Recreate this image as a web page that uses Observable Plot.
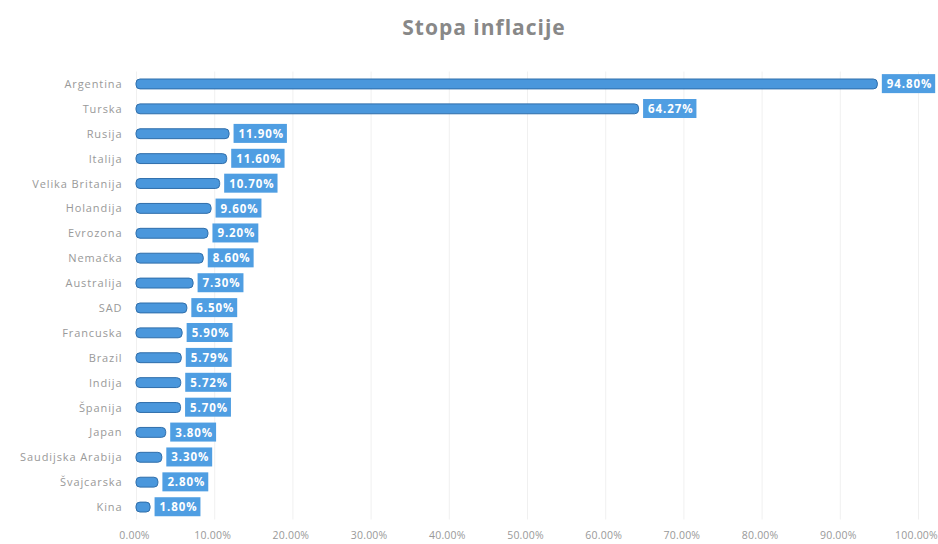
<!DOCTYPE html>
<html><head><meta charset="utf-8">
<script src="https://cdn.jsdelivr.net/npm/d3@7"></script>
<script src="https://cdn.jsdelivr.net/npm/@observablehq/plot@0.6"></script>
<style>
body{margin:0;background:#fff;font-family:"Open Sans",sans-serif;}
#title{height:50px;line-height:54px;text-align:center;font-size:21px;letter-spacing:1px;font-weight:700;color:#888;padding-left:30px;box-sizing:border-box;}
#chart svg{display:block;}
#chart svg text{letter-spacing:0.9px;}
#chart svg g.xax text{letter-spacing:0.2px;}
</style></head><body>
<div id="title">Stopa inflacije</div>
<div id="chart"></div>
<script>
const countries = ["Argentina","Turska","Rusija","Italija","Velika Britanija","Holandija","Evrozona","Nemačka","Australija","SAD","Francuska","Brazil","Indija","Španija","Japan","Saudijska Arabija","Švajcarska","Kina"];
const inflation = [94.8,64.27,11.9,11.6,10.7,9.6,9.2,8.6,7.3,6.5,5.9,5.79,5.72,5.7,3.8,3.3,2.8,1.8];
const xTicks = [0,10,20,30,40,50,60,70,80,90,100];

const data = countries.map((c,i)=>({country:c, value:inflation[i]/100, label:inflation[i].toFixed(2)+"%"}));

const chart = Plot.plot({
  width:938, height:494,
  marginLeft:136, marginRight:20, marginTop:21.5, marginBottom:24.5,
  style:{fontFamily:"Open Sans, sans-serif", fontSize:"11px", color:"#999", background:"#fff"},
  x:{domain:[0,1], label:null},
  y:{domain:countries, padding:0, round:false, tickSize:0, tickPadding:14, label:null},
  marks:[
    Plot.ruleX(xTicks.map(d=>d/100), {stroke:"#f0f0f0", strokeWidth:1}),
    Plot.axisX(xTicks.map(d=>d/100), {tickFormat:d=>(d*100).toFixed(2)+"%", tickSize:0, tickPadding:12, fontSize:10.5, dx:-2, className:"xax", label:null}),
    Plot.barX(data, {x:"value", y:"country", fill:"#4a97dc", stroke:"#2f6eaa", strokeWidth:1, rx:4, insetTop:7.5, insetBottom:7.5}),
    Plot.text(data, {x:"value", y:"country", text:"label", textAnchor:"start", dx:9, fill:"#fff", fontWeight:"bold", fontSize:11.5, className:"vlab"})
  ]
});
document.getElementById("chart").appendChild(chart);
// boxes behind value labels
d3.select(chart).selectAll("g.vlab").each(function(){
  const g = this;
  d3.select(g).selectAll("text").each(function(){
    const b = this.getBBox();
    const t = this.getAttribute("transform");
    const r = document.createElementNS("http://www.w3.org/2000/svg","rect");
    r.setAttribute("x", b.x-5); r.setAttribute("y", b.y-2);
    r.setAttribute("width", b.width+8); r.setAttribute("height", b.height+4);
    r.setAttribute("fill","#4f9ee2");
    if (t) r.setAttribute("transform", t);
    g.insertBefore(r, this);
  });
});
</script>
</body></html>
